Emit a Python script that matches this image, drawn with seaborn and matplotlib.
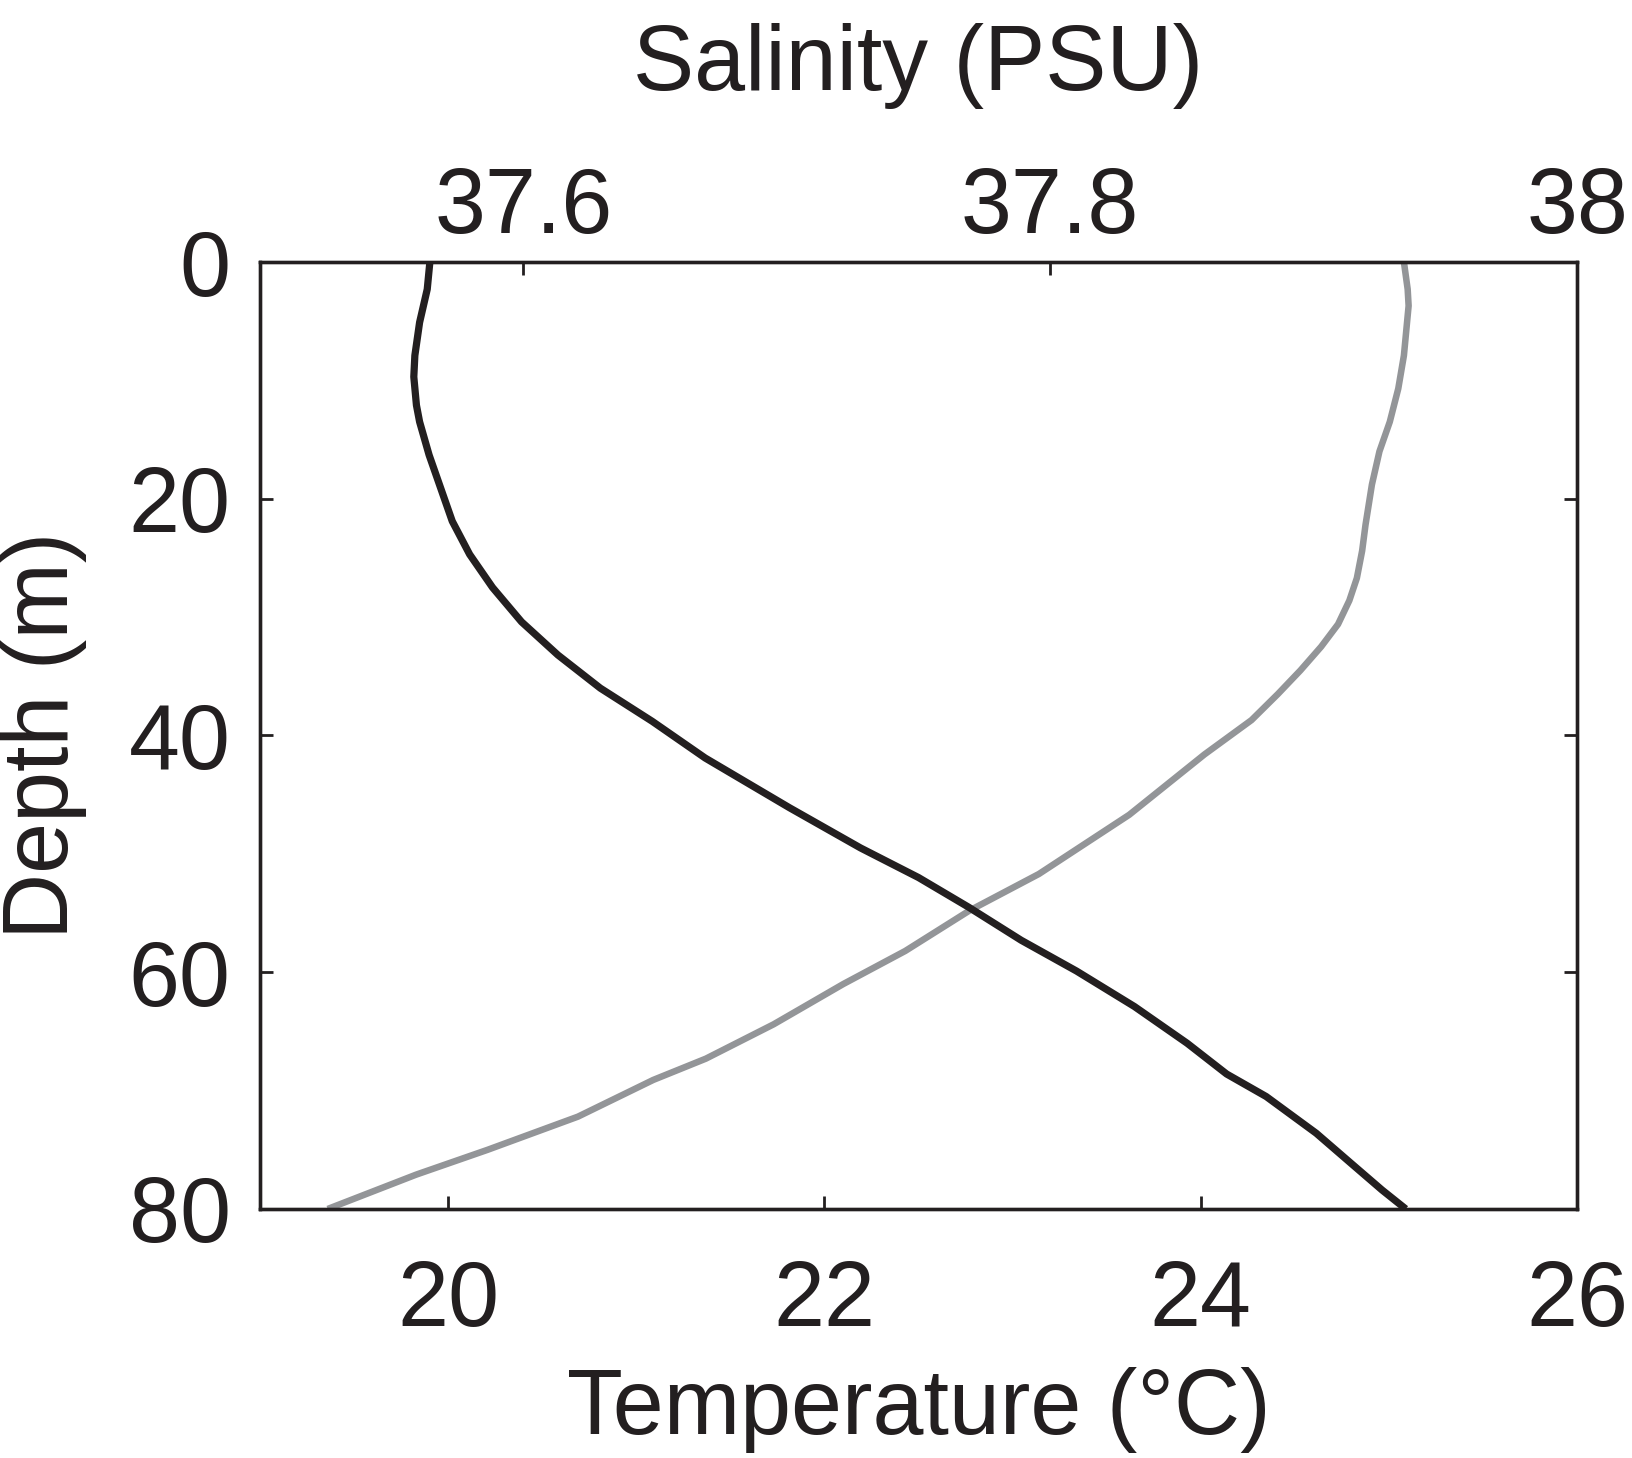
import matplotlib
matplotlib.use("Agg")
import matplotlib.pyplot as plt
import pandas as pd
import seaborn as sns

# Temperature profile (grey line, bottom axis)
temp_depth = [0, 2.3, 3.7, 7.9, 10.7, 13.5, 16.0, 18.8, 22.2, 24.4, 26.7, 28.6,
              30.6, 32.5, 34.5, 36.5, 38.7, 41.6, 46.7, 51.7, 54.8, 58.2, 61.0,
              64.4, 67.3, 69.1, 72.2, 75.0, 77.1, 80.0]
temperature = [25.08, 25.10, 25.105, 25.08, 25.05, 25.005, 24.95, 24.91, 24.876,
               24.858, 24.83, 24.79, 24.73, 24.64, 24.53, 24.41, 24.27, 24.02,
               23.62, 23.14, 22.77, 22.43, 22.10, 21.73, 21.37, 21.09, 20.69,
               20.21, 19.83, 19.36]

# Salinity profile (black line, top axis)
sal_depth = [0, 2.3, 5.1, 7.9, 9.7, 12.1, 13.5, 16.3, 19.1, 21.9, 24.7, 27.5,
             30.4, 33.2, 36.0, 38.8, 41.9, 46.1, 49.5, 52.0, 54.5, 57.3, 59.9,
             62.9, 66.0, 68.6, 70.5, 73.6, 76.1, 78.4, 80.0]
salinity = [37.5645, 37.5635, 37.5606, 37.5588, 37.5584, 37.5594, 37.5606,
            37.5642, 37.5686, 37.5730, 37.5796, 37.5883, 37.5993, 37.6131,
            37.6292, 37.6489, 37.669, 37.701, 37.728, 37.750, 37.769, 37.789,
            37.810, 37.832, 37.852, 37.867, 37.882, 37.901, 37.914, 37.926,
            37.935]

temp_ticks = [20, 22, 24, 26]
sal_ticks = [37.6, 37.8, 38]
sal_tick_labels = ["37.6", "37.8", "38"]
depth_ticks = [0, 20, 40, 60, 80]

sns.set_theme(style="ticks")
plt.rcParams["font.family"] = ["Liberation Sans", "DejaVu Sans"]

INK = "#231f20"
GREY = "#939598"
FS = 66

fig = plt.figure(figsize=(16.32, 14.58), dpi=100)
ax = fig.add_axes([0.1593, 0.1708, 0.8070, 0.6495])
ax2 = ax.twiny()

temp_df = pd.DataFrame({"Temperature": temperature, "Depth": temp_depth})
sal_df = pd.DataFrame({"Salinity": salinity, "Depth": sal_depth})

sns.lineplot(data=temp_df, x="Temperature", y="Depth", ax=ax, color=GREY,
             sort=False, estimator=None, orient="y")
sns.lineplot(data=sal_df, x="Salinity", y="Depth", ax=ax2, color=INK,
             sort=False, estimator=None, orient="y")

for line, lw in ((ax.lines[-1], 4.7), (ax2.lines[-1], 5.2)):
    line.set_linewidth(lw)
    line.set_solid_capstyle("butt")
    line.set_solid_joinstyle("round")

ax.set_xlim(19, 26)
ax2.set_xlim(37.5, 38)
ax.set_ylim(80, 0)

ax.set_xticks(temp_ticks)
ax.set_xticklabels([str(t) for t in temp_ticks])
ax.set_yticks(depth_ticks)
ax.set_yticklabels([str(d) for d in depth_ticks])
ax2.set_xticks(sal_ticks)
ax2.set_xticklabels(sal_tick_labels)

for a in (ax, ax2):
    for s in a.spines.values():
        s.set_visible(True)
        s.set_linewidth(2.4)
        s.set_color(INK)

ax.tick_params(axis="x", direction="in", length=9.5, width=2, colors=INK,
               labelsize=FS, pad=36, top=False, bottom=True)
ax.tick_params(axis="y", direction="in", length=9.5, width=2, colors=INK,
               labelsize=FS, pad=21, left=True, right=True, labelright=False)
ax2.tick_params(axis="x", direction="in", length=9.5, width=2, colors=INK,
                labelsize=FS, pad=7, top=True, bottom=False)

ax.set_xlabel("Temperature (°C)", fontsize=FS, color=INK, labelpad=16)
ax.set_ylabel("Depth (m)", fontsize=FS, color=INK, labelpad=30)
ax2.set_xlabel("Salinity (PSU)", fontsize=FS, color=INK, labelpad=55)

fig.savefig("out.png", dpi=100)
